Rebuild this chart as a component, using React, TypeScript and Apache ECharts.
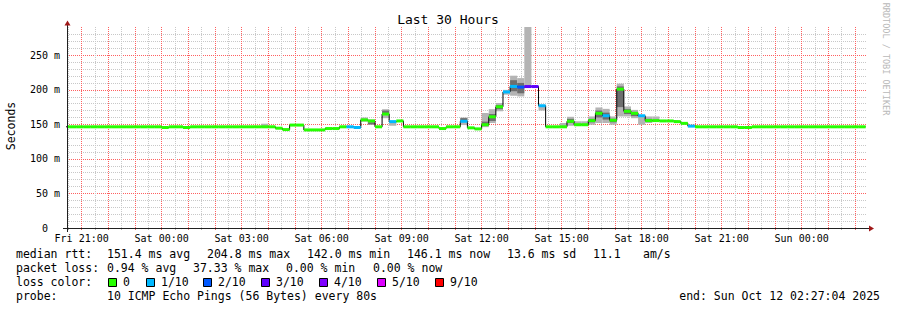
import React, { useEffect, useRef } from 'react';
import * as echarts from 'echarts';

// Time window: Fri 20:27:04 .. Sun 02:27:04 (hours counted from Fri 00:00)
const START_HOUR = 20 + 27 / 60 + 4 / 3600;
const SPAN_HOURS = 30;
// consolidated bins of 16 minutes, first bin starts Fri 20:16
const FIRST_BIN_MINUTE = 1216;
const BIN_MINUTES = 16;

// median rtt per bin (ms)
const medianMs = [
  146.5, 146.5, 146.5, 146.5, 146.5, 146.5, 146.5, 146.5, 146.5, 146.5,
  146.5, 146.5, 146.5, 146.5, 145.5, 146.5, 146.5, 145.5, 146.5, 146.5,
  146.5, 146.5, 146.5, 146.5, 146.5, 146.5, 146.5, 146.5, 146.5, 146.5,
  144.5, 142.5, 149, 149, 142, 142, 142, 144, 144, 146.5,
  146.5, 145.5, 156.5, 155, 146.5, 165, 154, 155, 146.5, 146.5,
  146.5, 146.5, 146.5, 144, 146.5, 146.5, 154.5, 145, 143.5, 149.5,
  161, 175.5, 197, 205, 204, 204.8, 204.8, 177, 146.5, 146.5,
  146.5, 154.5, 149.5, 149.5, 155.5, 166, 162.5, 156, 201, 169,
  166, 162.5, 155.5, 155.5, 155, 155, 154, 151.5, 147.5, 146.5,
  146.5, 146.5, 146.5, 146.5, 146.5, 145.5, 145.5, 146.5, 146.5, 146.5,
  146.5, 146.5, 146.5, 146.5, 146.5, 146.5, 146.5, 146.5, 146.5, 146.5,
  146.5, 146.5, 146.5,
];

// lost pings out of 10 per bin
const lossTenths = [
  0, 0, 0, 0, 0, 0, 0, 0, 0, 0,
  0, 0, 0, 0, 0, 0, 0, 0, 0, 0,
  0, 0, 0, 0, 0, 0, 0, 0, 0, 0,
  0, 0, 0, 0, 0, 0, 0, 0, 0, 0,
  1, 1, 0, 0, 0, 0, 1, 0, 0, 0,
  0, 0, 0, 0, 0, 0, 1, 0, 0, 0,
  0, 0, 1, 1, 2, 3, 3, 1, 0, 0,
  0, 0, 0, 0, 0, 0, 1, 0, 0, 0,
  0, 1, 0, 0, 0, 0, 0, 0, 1, 0,
  0, 0, 0, 0, 0, 0, 0, 0, 0, 0,
  0, 0, 0, 0, 0, 0, 0, 0, 0, 0,
  0, 0, 0,
];

// smoke: [bin, low, high, coreLow, coreHigh] in ms
const smokeBins: [number, number, number, number | null, number | null][] = [
  [28, 146.5, 151, null, null],
  [42, 154, 160, null, null],
  [43, 149.5, 157, 150, 153],
  [45, 159, 172, 165, 170],
  [46, 148, 155, null, null],
  [56, 149, 160, 155, 159],
  [59, 146, 166.5, 148, 154],
  [60, 152, 172, 155, 165],
  [61, 169, 181, 172, 178],
  [62, 193, 200, null, null],
  [63, 191.5, 220.5, 198, 214],
  [64, 190.5, 217, 195, 210],
  [65, 204.8, 292, null, null],
  [67, 170, 177, null, null],
  [70, 146.5, 152, null, null],
  [71, 148, 161, 152, 158],
  [72, 149.5, 154.5, null, null],
  [73, 149.5, 154.5, null, null],
  [74, 149.5, 161.5, 153, 158],
  [75, 152, 174.5, 160, 170],
  [76, 152, 172.5, 157, 167],
  [77, 149.5, 161.5, 153, 158],
  [78, 161.5, 209, 175, 205],
  [79, 161.5, 176, 165, 172],
  [80, 159, 171, 162, 168],
  [81, 149.5, 161.5, null, null],
  [82, 152, 161.5, 154, 158],
  [83, 154, 161.5, null, null],
];

const lossLevels = [0, 1, 2, 3, 4, 5, 9];
const lossLabels = ['0', '1/10', '2/10', '3/10', '4/10', '5/10', '9/10'];
const lossColors = ['#26ff00', '#00b8ff', '#0059ff', '#5e00ff', '#7e00ff', '#dd00ff', '#ff0000'];

const xLabelHours = [21, 24, 27, 30, 33, 36, 39, 42, 45, 48];
const dayNames = ['Fri', 'Sat', 'Sun'];
const yLabelValues = [0, 50, 100, 150, 200, 250];

const statsRtt = ['median rtt:', '151.4 ms avg', '204.8 ms max', '142.0 ms min', '146.1 ms now', '13.6 ms sd', '11.1', 'am/s'];
const statsLoss = ['packet loss:', '0.94 % avg', '37.33 % max', '0.00 % min', '0.00 % now'];
const probeLabel = 'probe:';
const probeText = '10 ICMP Echo Pings (56 Bytes) every 80s';
const endText = 'end: Sun Oct 12 02:27:04 2025';
const titleText = 'Last 30 Hours';
const yName = 'Seconds';
const credit = 'RRDTOOL / TOBI OETIKER';

const MONO = "'DejaVu Sans Mono', monospace";

const binStart = (i: number) => (FIRST_BIN_MINUTE + BIN_MINUTES * i) / 60;
const lossColor = (l: number) => {
  let idx = 0;
  lossLevels.forEach((lv, k) => { if (l >= lv) idx = k; });
  return lossColors[idx];
};

export default function App() {
  const ref = useRef<HTMLDivElement>(null);
  useEffect(() => {
    document.body.style.margin = '0';
    const chart = echarts.init(ref.current!, null, { renderer: 'svg' });

    const bandData = medianMs.map((m, i) => [binStart(i), binStart(i + 1), m, lossTenths[i]]);
    const lineData = medianMs.map((m, i) => [binStart(i), m]);
    lineData.push([binStart(medianMs.length), medianMs[medianMs.length - 1]]);
    const smokeData = smokeBins.map(([i, lo, hi, cl, ch]) => [
      binStart(i), binStart(i + 1), lo, hi, cl == null ? lo : cl, ch == null ? lo : ch,
    ]);

    // minor grid: half hours (not on the hour); major grid: whole hours
    const halfHours: number[] = [];
    for (let h = 20.5; h <= 50; h += 1) halfHours.push(h);
    const wholeHours: number[] = [];
    for (let h = 21; h <= 50; h += 1) wholeHours.push(h);
    const yMinor: number[] = [];
    for (let v = 10; v <= 280; v += 10) if (v % 50 !== 0) yMinor.push(v);
    const yMajor: number[] = [];
    for (let v = 50; v <= 250; v += 50) yMajor.push(v);

    const txt = (text: string, x: number, y: number, extra: any = {}) => ({
      type: 'text', x, y, silent: true,
      style: { text, font: `11.5px ${MONO}`, fill: '#000', align: 'left', verticalAlign: 'middle', ...extra },
    });

    const rttX = [16, 107, 207, 307, 407, 507, 593, 643];
    const lossX = [16, 107, 193, 286, 373];
    const boxX = [108, 146, 203, 261, 319, 377, 435];

    const graphics: any[] = [
      txt(titleText, 448, 19, { font: `13px ${MONO}`, align: 'center' }),
      { type: 'text', x: 11, y: 126, rotation: Math.PI / 2, silent: true,
        style: { text: yName, font: `11.5px ${MONO}`, fill: '#000', align: 'center', verticalAlign: 'middle' } },
      { type: 'text', x: 886, y: 59, rotation: -Math.PI / 2, silent: true,
        style: { text: credit, font: `8.5px ${MONO}`, fill: '#b8b8b8', align: 'center', verticalAlign: 'middle' } },
      // axes
      { type: 'line', silent: true, z: 10, shape: { x1: 63, y1: 228.5, x2: 869, y2: 228.5 }, style: { stroke: '#202020', lineWidth: 1 } },
      { type: 'line', silent: true, z: 10, shape: { x1: 67.5, y1: 232, x2: 67.5, y2: 25 }, style: { stroke: '#202020', lineWidth: 1 } },
      { type: 'polygon', silent: true, z: 10, shape: { points: [[869, 225.5], [874, 228.5], [869, 231.5]] }, style: { fill: '#a01818' } },
      { type: 'polygon', silent: true, z: 10, shape: { points: [[64.5, 25.5], [67.5, 20.5], [70.5, 25.5]] }, style: { fill: '#a01818' } },
    ];
    statsRtt.forEach((s, k) => graphics.push(txt(s, rttX[k], 254)));
    statsLoss.forEach((s, k) => graphics.push(txt(s, lossX[k], 268)));
    graphics.push(txt('loss color:', 16, 282));
    lossLabels.forEach((s, k) => {
      graphics.push({ type: 'rect', silent: true, shape: { x: boxX[k] + 0.5, y: 278.5, width: 8, height: 8 },
        style: { fill: lossColors[k], stroke: '#000', lineWidth: 1 } });
      graphics.push(txt(s, boxX[k] + 15, 282));
    });
    graphics.push(txt(probeLabel, 16, 296));
    graphics.push(txt(probeText, 107, 296));
    graphics.push(txt(endText, 880, 296, { align: 'right' }));

    const xFmt = (v: number) => {
      const d = Math.floor(v / 24 + 1e-6);
      const h = Math.round(v - d * 24);
      return `${dayNames[d]} ${String(h).padStart(2, '0')}:00`;
    };

    chart.setOption({
      animation: false,
      backgroundColor: '#ffffff',
      grid: { left: 67, right: 30, top: 27, bottom: 82, containLabel: false },
      xAxis: [
        {
          type: 'value', min: START_HOUR, max: START_HOUR + SPAN_HOURS, position: 'bottom',
          axisLine: { show: false },
          axisTick: { show: true, length: 2, customValues: halfHours, lineStyle: { color: '#b0b0b0' } },
          axisLabel: { customValues: xLabelHours, margin: 5, color: '#000', fontFamily: MONO, fontSize: 10, formatter: xFmt },
          splitLine: { show: true, lineStyle: { color: '#c8c8c8', type: [1, 1], width: 1 } },
        },
        {
          type: 'value', min: START_HOUR, max: START_HOUR + SPAN_HOURS, position: 'bottom',
          axisLine: { show: false },
          axisTick: { show: true, length: 2, customValues: wholeHours, lineStyle: { color: '#e06060' } },
          axisLabel: { show: false },
          splitLine: { show: true, lineStyle: { color: '#ff6060', type: [1, 1], width: 1 } },
        },
      ],
      yAxis: [
        {
          type: 'value', min: 0, max: 291,
          axisLine: { show: false },
          axisTick: { show: false, customValues: yMinor },
          axisLabel: {
            customValues: yLabelValues, margin: 7, color: '#000', fontFamily: MONO, fontSize: 10,
            formatter: (v: number) => (v === 0 ? '{z|0}' : `{n|${v} m}`),
            rich: {
              z: { fontFamily: MONO, fontSize: 10, color: '#000', padding: [0, 12, 0, 0] },
              n: { fontFamily: MONO, fontSize: 10, color: '#000' },
            },
          },
          splitLine: { show: true, lineStyle: { color: '#c8c8c8', type: [1, 1], width: 1 } },
        },
        {
          type: 'value', min: 0, max: 291,
          axisLine: { show: false },
          axisTick: { show: false, customValues: yMajor },
          axisLabel: { show: false },
          splitLine: { show: true, lineStyle: { color: '#ff6060', type: [1, 1], width: 1 } },
        },
      ],
      graphic: graphics,
      series: [
        {
          type: 'custom', name: 'smoke', clip: true, z: 1, xAxisIndex: 0, yAxisIndex: 0,
          encode: { x: [0, 1], y: [2, 3] },
          data: smokeData,
          renderItem: (params: any, api: any) => {
            const x0 = api.value(0), x1 = api.value(1);
            const a = api.coord([x0, api.value(3)]);
            const b = api.coord([x1, api.value(2)]);
            const children: any[] = [{
              type: 'rect', shape: { x: a[0], y: a[1], width: b[0] - a[0], height: b[1] - a[1] },
              style: { fill: '#b4b4b4' },
            }];
            const cl = api.value(4), ch = api.value(5);
            if (ch > cl) {
              const c = api.coord([x0, ch]);
              const d = api.coord([x1, cl]);
              children.push({ type: 'rect', shape: { x: c[0], y: c[1], width: d[0] - c[0], height: d[1] - c[1] },
                style: { fill: '#6e6e6e' } });
            }
            return { type: 'group', children };
          },
        },
        {
          type: 'line', name: 'median', step: 'end', data: lineData, symbol: 'none', z: 2, xAxisIndex: 0, yAxisIndex: 0,
          lineStyle: { color: '#000', width: 1 }, clip: true,
        },
        {
          type: 'custom', name: 'loss', clip: true, z: 3, xAxisIndex: 0, yAxisIndex: 0,
          encode: { x: [0, 1], y: 2 },
          data: bandData,
          renderItem: (params: any, api: any) => {
            const a = api.coord([api.value(0), api.value(2)]);
            const b = api.coord([api.value(1), api.value(2)]);
            return {
              type: 'rect', shape: { x: a[0], y: a[1] - 1.5, width: b[0] - a[0], height: 3 },
              style: { fill: lossColor(api.value(3)) },
            };
          },
        },
      ],
    });
    return () => chart.dispose();
  }, []);
  return <div ref={ref} style={{ width: 897, height: 310 }} />;
}
